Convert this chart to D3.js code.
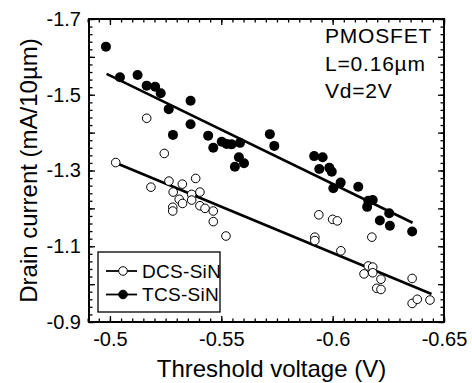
<!DOCTYPE html>
<html>
<head>
<meta charset="utf-8">
<script src="https://cdn.jsdelivr.net/npm/d3@7"></script>
<style>
  body { margin: 0; background: #fff; }
  svg { font-family: "Liberation Sans", Arial, Helvetica, sans-serif; }
</style>
</head>
<body>
<div class="chart"></div>
<script>
// DCS-SiN (open circles): threshold voltage (V), drain current (mA/10um)
const dcsVt = [-0.5165, -0.5244, -0.5026, -0.5184, -0.5265, -0.5325, -0.5385, -0.5284, -0.5367, -0.5404,
  -0.5311, -0.5326, -0.5367, -0.5282, -0.5282, -0.5404, -0.5427, -0.5464, -0.5464, -0.5521,
  -0.5938, -0.6, -0.6021, -0.592, -0.592, -0.6176, -0.6037, -0.616, -0.618, -0.6141,
  -0.618, -0.6217, -0.6198, -0.6217, -0.6357, -0.6357, -0.638, -0.6437]
const dcsId = [-1.438, -1.345, -1.321, -1.256, -1.272, -1.264, -1.279, -1.243, -1.237, -1.243,
  -1.224, -1.213, -1.222, -1.203, -1.193, -1.207, -1.2, -1.193, -1.165, -1.127,
  -1.183, -1.171, -1.167, -1.124, -1.115, -1.124, -1.088, -1.048, -1.045, -1.027,
  -1.03, -1.013, -0.989, -0.986, -1.015, -0.949, -0.96, -0.958]

// TCS-SiN (filled circles)
const tcsVt = [-0.4982, -0.5045, -0.5124, -0.5165, -0.5203, -0.5228, -0.5362, -0.5264, -0.5362, -0.5283,
  -0.5441, -0.5464, -0.5502, -0.5524, -0.5546, -0.5584, -0.5579, -0.5602, -0.5561, -0.5718,
  -0.5738, -0.5917, -0.5955, -0.594, -0.5985, -0.5996, -0.6036, -0.6115, -0.6003, -0.616,
  -0.618, -0.6155, -0.6254, -0.6212, -0.6257, -0.6357]
const tcsId = [-1.627, -1.546, -1.552, -1.524, -1.521, -1.504, -1.484, -1.462, -1.422, -1.394,
  -1.392, -1.36, -1.376, -1.37, -1.369, -1.373, -1.335, -1.319, -1.31, -1.396,
  -1.365, -1.338, -1.335, -1.304, -1.307, -1.297, -1.268, -1.257, -1.253, -1.22,
  -1.222, -1.204, -1.187, -1.168, -1.154, -1.139]

// fitted lines (end points)
const dcsFitVt = [-0.503, -0.6444]
const dcsFitId = [-1.319, -0.974]
const tcsFitVt = [-0.4985, -0.6359]
const tcsFitId = [-1.555, -1.162]

// axes
const xTicks = [-0.5, -0.55, -0.6, -0.65]
const xTickLabels = ["-0.5", "-0.55", "-0.6", "-0.65"]
const yTicks = [-1.7, -1.5, -1.3, -1.1, -0.9]
const yTickLabels = ["-1.7", "-1.5", "-1.3", "-1.1", "-0.9"]
const seriesNames = ["DCS-SiN", "TCS-SiN"]
const notes = ["PMOSFET", "L=0.16\u00b5m", "Vd=2V"]

const width = 472
const height = 383
const margin = { top: 19, right: 28, bottom: 61, left: 89 }

const svg = d3
  .select(".chart")
  .append("svg")
  .attr("width", width)
  .attr("height", height)

const x = d3
  .scaleLinear()
  .domain([-0.4906, -0.65])
  .range([margin.left, width - margin.right])

const y = d3
  .scaleLinear()
  .domain([-1.7, -0.9])
  .range([margin.top, height - margin.bottom])

const x0 = margin.left, x1 = width - margin.right
const y0 = margin.top, y1 = height - margin.bottom

// minor / major tick values
const xMinor = d3.range(0, 33).map((i) => -0.49 - i * 0.005)
const yMinor = d3.range(0, 41).map((i) => -1.7 + i * 0.02)
const yMajor = d3.range(0, 9).map((i) => -1.7 + i * 0.1)

function tickAxis(axis, vals, size, transform) {
  svg
    .append("g")
    .attr("transform", transform)
    .call(axis.tickValues(vals).tickSize(size).tickFormat(""))
    .call((g) => g.select(".domain").remove())
    .selectAll("line")
    .attr("stroke", "#000")
    .attr("stroke-width", 1.3)
}

// ticks on all four sides, pointing inward
tickAxis(d3.axisBottom(x), xMinor, -3.5, `translate(0,${y1})`)
tickAxis(d3.axisBottom(x), xTicks, -6, `translate(0,${y1})`)
tickAxis(d3.axisTop(x), xMinor, -3.5, `translate(0,${y0})`)
tickAxis(d3.axisTop(x), xTicks, -6, `translate(0,${y0})`)
tickAxis(d3.axisLeft(y), yMinor, -3.5, `translate(${x0},0)`)
tickAxis(d3.axisLeft(y), yMajor, -6, `translate(${x0},0)`)
tickAxis(d3.axisRight(y), yMinor, -3.5, `translate(${x1},0)`)
tickAxis(d3.axisRight(y), yMajor, -6, `translate(${x1},0)`)

// tick labels
svg
  .append("g")
  .attr("transform", `translate(0,${y1})`)
  .call(
    d3.axisBottom(x)
      .tickValues(xTicks)
      .tickSize(0)
      .tickPadding(10)
      .tickFormat((d, i) => xTickLabels[i]),
  )
  .call((g) => g.select(".domain").remove())
  .selectAll("text")
  .attr("font-size", "20px")
  .attr("font-family", "Liberation Sans, Arial, sans-serif")
  .attr("fill", "#000")

svg
  .append("g")
  .attr("transform", `translate(${x0},0)`)
  .call(
    d3.axisLeft(y)
      .tickValues(yTicks)
      .tickSize(0)
      .tickPadding(8)
      .tickFormat((d, i) => yTickLabels[i]),
  )
  .call((g) => g.select(".domain").remove())
  .selectAll("text")
  .attr("font-size", "20px")
  .attr("font-family", "Liberation Sans, Arial, sans-serif")
  .attr("fill", "#000")

// frame
svg
  .append("rect")
  .attr("x", x0)
  .attr("y", y0)
  .attr("width", x1 - x0)
  .attr("height", y1 - y0)
  .attr("fill", "none")
  .attr("stroke", "#000")
  .attr("stroke-width", 2)

// fitted lines
const line = d3.line().x((d) => x(d[0])).y((d) => y(d[1]))
svg
  .append("path")
  .attr("d", line(d3.zip(tcsFitVt, tcsFitId)))
  .attr("stroke", "#000")
  .attr("stroke-width", 2.6)
  .attr("fill", "none")
svg
  .append("path")
  .attr("d", line(d3.zip(dcsFitVt, dcsFitId)))
  .attr("stroke", "#000")
  .attr("stroke-width", 2.6)
  .attr("fill", "none")

// points
svg
  .append("g")
  .selectAll("circle")
  .data(d3.zip(tcsVt, tcsId))
  .join("circle")
  .attr("cx", (d) => x(d[0]))
  .attr("cy", (d) => y(d[1]))
  .attr("r", 5)
  .attr("fill", "#000")

svg
  .append("g")
  .selectAll("circle")
  .data(d3.zip(dcsVt, dcsId))
  .join("circle")
  .attr("cx", (d) => x(d[0]))
  .attr("cy", (d) => y(d[1]))
  .attr("r", 4.3)
  .attr("fill", "#fff")
  .attr("stroke", "#000")
  .attr("stroke-width", 1)

// legend
const legend = svg.append("g").attr("transform", "translate(98,252)")
legend
  .append("rect")
  .attr("width", 122)
  .attr("height", 60)
  .attr("fill", "#fff")
  .attr("stroke", "#000")
  .attr("stroke-width", 1.3)

seriesNames.forEach((name, i) => {
  const ly = 19 + i * 23.5
  legend
    .append("line")
    .attr("x1", 8)
    .attr("x2", 39)
    .attr("y1", ly)
    .attr("y2", ly)
    .attr("stroke", "#000")
    .attr("stroke-width", 1.8)
  legend
    .append("circle")
    .attr("cx", 25)
    .attr("cy", ly)
    .attr("r", 4.3)
    .attr("fill", i === 0 ? "#fff" : "#000")
    .attr("stroke", "#000")
    .attr("stroke-width", 1)
  legend
    .append("text")
    .attr("x", 44)
    .attr("y", ly)
    .attr("dy", "0.36em")
    .attr("font-size", "19px")
    .attr("letter-spacing", "0.3px")
    .text(name)
})

// annotation
svg
  .append("g")
  .selectAll("text")
  .data(notes)
  .join("text")
  .attr("x", 325)
  .attr("y", (d, i) => 43 + i * 27.5)
  .attr("font-size", "21px")
  .attr("letter-spacing", "0.8px")
  .text((d) => d)

// axis titles
svg
  .append("text")
  .attr("x", (x0 + x1) / 2 + 5)
  .attr("y", 377)
  .attr("text-anchor", "middle")
  .attr("font-size", "24px")
  .text("Threshold voltage (V)")

svg
  .append("text")
  .attr("transform", `translate(37,${(y0 + y1) / 2}) rotate(-90)`)
  .attr("text-anchor", "middle")
  .attr("font-size", "24px")
  .text("Drain current (mA/10\u00b5m)")
</script>
</body>
</html>
